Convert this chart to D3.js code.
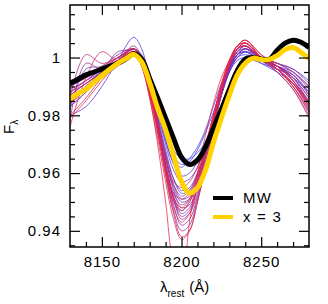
<!DOCTYPE html>
<html><head><meta charset="utf-8">
<script src="https://cdn.jsdelivr.net/npm/d3@7"></script>
<style>body{margin:0;background:#fff}svg{display:block}</style>
</head><body>
<script>
// ---- data ----
const lamGrid = [8130,8135,8140,8145,8150,8155,8160,8165,8170,8175,8180,8185,8190,8195,8200,8205,8210,8215,8220,8225,8230,8235,8240,8245,8250,8255,8260,8265,8270,8275,8280];
const mwFlux = [0.991,0.9925,0.994,0.995,0.996,0.997,0.998,0.9995,1.0013,0.9995,0.9928,0.986,0.979,0.972,0.9655,0.963,0.9645,0.969,0.9755,0.982,0.989,0.9955,0.9995,1.0,0.9995,0.9993,1.0025,1.005,1.006,1.0053,1.0035];
const x3Flux = [0.9856,0.9875,0.989,0.9915,0.9937,0.996,0.998,0.9996,1.0011,0.9985,0.9913,0.9825,0.975,0.966,0.957,0.953,0.955,0.961,0.9705,0.979,0.987,0.994,0.998,0.9998,0.9993,0.9993,1.0007,1.0028,1.0035,1.0018,0.9996];
const lamThin = [8130,8140,8150,8160,8170,8175,8180,8185,8190,8195,8200,8205,8210,8215,8220,8225,8230,8235,8240,8250,8260,8270,8280];
const c0 = [0.988,0.992,0.995,0.998,1.001,0.999,0.993,0.984,0.975,0.968,0.965,0.965,0.967,0.971,0.978,0.987,0.995,0.999,1.000,0.998,0.996,0.993,0.988];
const c1 = [0.985,0.990,0.994,0.998,1.002,0.999,0.992,0.982,0.973,0.966,0.963,0.964,0.968,0.974,0.981,0.989,0.996,1.000,1.001,0.999,0.997,0.995,0.990];
const c2 = [0.990,0.993,0.996,0.999,1.001,0.998,0.991,0.981,0.971,0.964,0.962,0.965,0.969,0.975,0.983,0.991,0.997,1.001,1.002,0.998,0.995,0.991,0.985];
const c3 = [0.983,0.988,0.993,0.997,1.002,1.000,0.993,0.983,0.972,0.963,0.959,0.960,0.964,0.970,0.978,0.987,0.995,1.000,1.002,0.999,0.997,0.994,0.987];
const c4 = [0.987,0.991,0.995,0.999,1.003,1.001,0.993,0.982,0.970,0.961,0.957,0.958,0.962,0.969,0.978,0.988,0.996,1.001,1.003,1.000,0.998,0.996,0.992];
const c5 = [0.980,0.983,0.990,0.999,1.007,1.003,0.992,0.979,0.967,0.958,0.954,0.955,0.960,0.968,0.978,0.988,0.996,1.001,1.002,0.999,0.997,0.993,0.986];
const c6 = [0.992,0.994,0.996,0.999,1.002,0.999,0.991,0.980,0.968,0.958,0.953,0.954,0.959,0.967,0.977,0.987,0.995,1.000,1.002,1.000,0.998,0.995,0.989];
const c7 = [0.986,0.990,0.995,0.998,1.002,0.999,0.990,0.978,0.966,0.956,0.951,0.952,0.958,0.967,0.978,0.988,0.996,1.001,1.003,1.000,0.997,0.993,0.984];
const c8 = [0.982,0.996,0.997,1.001,1.003,0.999,0.990,0.978,0.965,0.955,0.950,0.951,0.957,0.966,0.977,0.988,0.997,1.002,1.004,1.000,0.997,0.992,0.983];
const c9 = [0.989,0.992,0.996,0.999,1.003,1.000,0.991,0.979,0.965,0.954,0.948,0.949,0.955,0.964,0.976,0.987,0.996,1.001,1.003,0.999,0.996,0.994,0.988];
const c10 = [0.984,0.989,0.994,0.998,1.002,0.998,0.989,0.976,0.963,0.952,0.946,0.948,0.955,0.965,0.977,0.988,0.997,1.002,1.003,0.999,0.996,0.991,0.982];
const c11 = [0.991,0.993,0.996,1.000,1.003,0.999,0.990,0.977,0.963,0.951,0.944,0.946,0.953,0.963,0.975,0.987,0.996,1.001,1.003,1.000,0.998,0.996,0.991];
const c12 = [0.985,0.990,0.995,0.999,1.004,1.000,0.990,0.976,0.961,0.949,0.942,0.944,0.952,0.963,0.976,0.988,0.997,1.002,1.004,1.000,0.997,0.992,0.984];
const c13 = [0.978,0.998,0.996,1.002,1.002,0.997,0.988,0.976,0.962,0.951,0.945,0.947,0.955,0.966,0.978,0.989,0.998,1.003,1.004,0.999,0.995,0.989,0.980];
const c14 = [0.988,0.991,0.995,0.999,1.003,0.999,0.989,0.975,0.960,0.947,0.940,0.942,0.951,0.962,0.975,0.987,0.996,1.002,1.004,1.000,0.997,0.994,0.987];
const c15 = [0.983,0.988,0.994,0.998,1.002,0.998,0.988,0.975,0.961,0.950,0.947,0.950,0.957,0.967,0.979,0.990,0.998,1.003,1.005,1.000,0.996,0.990,0.981];
const c16 = [0.986,1.001,0.998,1.000,1.003,0.999,0.989,0.977,0.963,0.953,0.949,0.951,0.958,0.968,0.979,0.990,0.999,1.004,1.005,1.000,0.996,0.991,0.984];
const c17 = [0.990,0.993,0.996,1.000,1.003,0.999,0.990,0.978,0.965,0.956,0.952,0.954,0.960,0.969,0.980,0.990,0.998,1.003,1.004,1.000,0.997,0.993,0.986];
const c18 = [0.980,0.986,0.993,0.998,1.002,0.998,0.988,0.974,0.959,0.946,0.938,0.940,0.950,0.962,0.976,0.988,0.997,1.003,1.005,1.000,0.995,0.989,0.979];
const c19 = [0.987,0.991,0.995,0.999,1.002,0.998,0.988,0.975,0.962,0.953,0.951,0.953,0.959,0.968,0.979,0.990,0.999,1.004,1.006,1.001,0.997,0.992,0.985];
const c20 = [0.976,0.993,1.002,0.999,1.002,0.997,0.987,0.975,0.962,0.952,0.947,0.950,0.957,0.967,0.979,0.990,0.998,1.003,1.005,1.000,0.996,0.990,0.982];
const c21 = [0.984,0.989,0.994,0.998,1.002,0.997,0.986,0.972,0.957,0.944,0.937,0.940,0.950,0.963,0.977,0.989,0.998,1.003,1.005,1.000,0.996,0.991,0.983];
const c22 = [0.992,0.994,0.997,1.000,1.003,0.999,0.990,0.978,0.966,0.957,0.955,0.957,0.962,0.970,0.980,0.990,0.998,1.003,1.004,1.000,0.998,0.995,0.990];
const c23 = [0.985,0.990,0.994,0.998,1.002,0.997,0.986,0.970,0.950,0.929,0.924,0.943,0.960,0.973,0.984,0.993,0.999,1.004,1.006,1.000,0.996,0.990,0.981];
const c24 = [0.979,0.985,0.992,0.998,1.003,0.999,0.989,0.975,0.960,0.948,0.943,0.946,0.955,0.966,0.978,0.989,0.998,1.004,1.006,1.001,0.997,0.992,0.984];
const c25 = [0.988,0.992,0.996,0.999,1.002,0.998,0.988,0.974,0.961,0.951,0.948,0.951,0.959,0.969,0.980,0.991,0.999,1.004,1.005,1.000,0.996,0.991,0.983];
const thinSeries = [c0,c1,c2,c3,c4,c5,c6,c7,c8,c9,c10,c11,c12,c13,c14,c15,c16,c17,c18,c19,c20,c21,c22,c23,c24,c25];
const xMajor = [8150, 8200, 8250];
const xMinor = [8140,8160,8170,8180,8190,8210,8220,8230,8240,8260,8270];
const yMajor = [0.94, 0.96, 0.98, 1.0];
const yMajorLabels = ["0.94", "0.96", "0.98", "1"];
const yMinor = [0.935,0.945,0.95,0.955,0.965,0.97,0.975,0.985,0.99,0.995,1.005,1.01,1.015];
const legendLabels = ["MW", "x = 3"];

// ---- chart ----
const W = 328, H = 304;
const L = 70, R = 309, T = 5, B = 247;
const svg = d3.select("body").append("svg").attr("width", W).attr("height", H);
const x = d3.scaleLinear().domain([8130, 8280]).range([L, R]);
const y = d3.scaleLinear().domain([0.9344, 1.0182]).range([B, T]);
const font = "'Liberation Sans', Arial, Helvetica, sans-serif";

svg.append("defs").append("clipPath").attr("id", "clip")
  .append("rect").attr("x", L).attr("y", T).attr("width", R - L).attr("height", B - T);

const color = d3.scaleLinear().domain([0, 12, 25])
  .range(["#3a3af2", "#8c2a9e", "#f42838"]);

const plot = svg.append("g").attr("clip-path", "url(#clip)");
const lineThin = d3.line().x((d, i) => x(lamThin[i])).y(d => y(d)).curve(d3.curveCatmullRom.alpha(0.5));
plot.selectAll("path.thin").data(thinSeries).join("path")
  .attr("class", "thin")
  .attr("d", d => lineThin(d))
  .attr("fill", "none")
  .attr("stroke", (d, i) => color(i))
  .attr("stroke-width", 0.9)
  .attr("stroke-opacity", 0.85);

const lineThick = d3.line().x((d, i) => x(lamGrid[i])).y(d => y(d)).curve(d3.curveCatmullRom.alpha(0.5));
plot.append("path").attr("d", lineThick(mwFlux)).attr("fill", "none")
  .attr("stroke", "#000").attr("stroke-width", 5).attr("stroke-linejoin", "round");
plot.append("path").attr("d", lineThick(x3Flux)).attr("fill", "none")
  .attr("stroke", "#ffd200").attr("stroke-width", 5).attr("stroke-linejoin", "round");

// axes
function styleAxis(g) {
  g.select(".domain").remove();
  g.selectAll("line").attr("stroke", "#000").attr("stroke-width", 1.2);
  g.selectAll("text").attr("fill", "#000").style("font-family", font).style("font-size", "15px").style("letter-spacing", "1px");
}
svg.append("g").attr("transform", `translate(0,${B})`)
  .call(d3.axisBottom(x).tickValues(xMajor).tickSizeInner(-10).tickSizeOuter(0).tickPadding(9).tickFormat(d3.format("d")))
  .call(styleAxis);
svg.append("g").attr("transform", `translate(0,${B})`)
  .call(d3.axisBottom(x).tickValues(xMinor).tickSizeInner(-5).tickSizeOuter(0).tickFormat(""))
  .call(styleAxis);
svg.append("g").attr("transform", `translate(0,${T})`)
  .call(d3.axisTop(x).tickValues(xMajor).tickSizeInner(-10).tickSizeOuter(0).tickFormat(""))
  .call(styleAxis);
svg.append("g").attr("transform", `translate(0,${T})`)
  .call(d3.axisTop(x).tickValues(xMinor).tickSizeInner(-5).tickSizeOuter(0).tickFormat(""))
  .call(styleAxis);
svg.append("g").attr("transform", `translate(${L},0)`)
  .call(d3.axisLeft(y).tickValues(yMajor).tickSizeInner(-10).tickSizeOuter(0).tickPadding(9)
    .tickFormat((d, i) => yMajorLabels[i]))
  .call(styleAxis);
svg.append("g").attr("transform", `translate(${L},0)`)
  .call(d3.axisLeft(y).tickValues(yMinor).tickSizeInner(-5).tickSizeOuter(0).tickFormat(""))
  .call(styleAxis);
svg.append("g").attr("transform", `translate(${R},0)`)
  .call(d3.axisRight(y).tickValues(yMajor).tickSizeInner(-10).tickSizeOuter(0).tickFormat(""))
  .call(styleAxis);
svg.append("g").attr("transform", `translate(${R},0)`)
  .call(d3.axisRight(y).tickValues(yMinor).tickSizeInner(-5).tickSizeOuter(0).tickFormat(""))
  .call(styleAxis);

svg.append("rect").attr("x", L).attr("y", T).attr("width", R - L).attr("height", B - T)
  .attr("fill", "none").attr("stroke", "#000").attr("stroke-width", 1.5);

// axis titles
const xt = svg.append("text").attr("x", 160).attr("y", 292)
  .style("font-family", font).style("font-size", "15px").attr("fill", "#000");
xt.append("tspan").text("λ");
xt.append("tspan").attr("dy", 5).style("font-size", "10px").text("rest");
xt.append("tspan").attr("dy", -5).attr("dx", 5).text("(Å)");

const yt = svg.append("text").attr("transform", "translate(14,134) rotate(-90)")
  .style("font-family", font).style("font-size", "15px").attr("fill", "#000");
yt.append("tspan").text("F");
yt.append("tspan").attr("dy", 4).style("font-size", "10px").text("λ");

// legend
const legColors = ["#000", "#ffd200"];
const leg = svg.append("g");
legendLabels.forEach((lab, i) => {
  const yy = 198 + i * 19;
  leg.append("line").attr("x1", 213).attr("x2", 233).attr("y1", yy).attr("y2", yy)
    .attr("stroke", legColors[i]).attr("stroke-width", 4);
  leg.append("text").attr("x", 243).attr("y", yy + 5).text(lab)
    .style("font-family", font).style("font-size", "15px").style("letter-spacing", "1.2px").attr("fill", "#000");
});
</script>
</body></html>
